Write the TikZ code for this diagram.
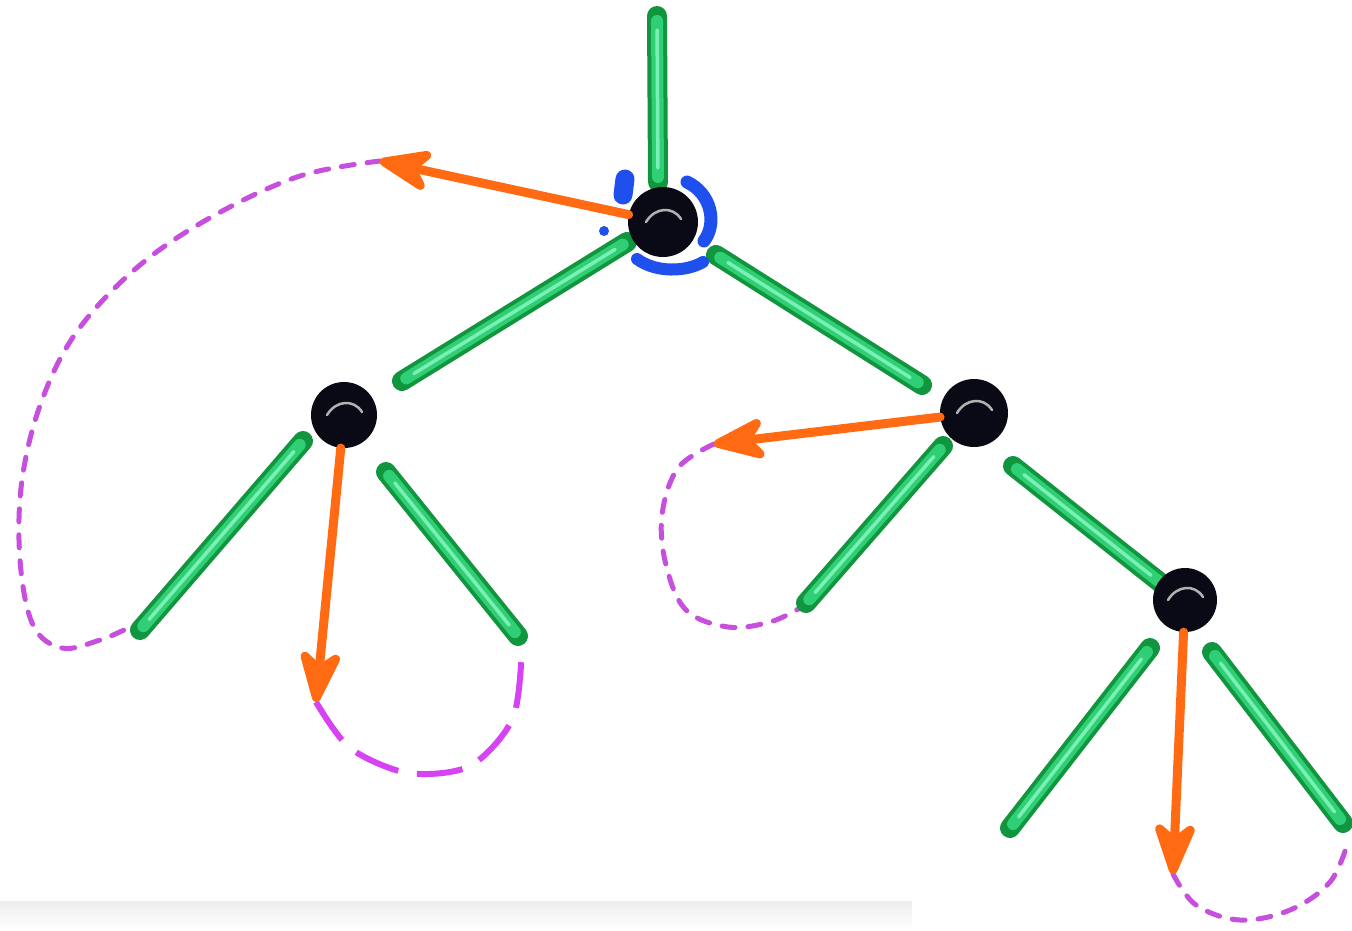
\documentclass[tikz,border=0pt]{standalone}
\usetikzlibrary{arrows.meta,calc}
\definecolor{gdark}{HTML}{11963F}
\definecolor{gmid}{HTML}{30CF76}
\definecolor{glight}{HTML}{7AF0B4}
\definecolor{orng}{HTML}{FF6A12}
\definecolor{mag}{HTML}{C64FDE}
\definecolor{mag2}{HTML}{D642F4}
\definecolor{blu}{HTML}{1F50EE}
\definecolor{nodeblk}{HTML}{0A0A16}
\tikzset{
  stickout/.style={gdark,line width=20pt,line cap=round},
  stickin/.style={gmid,line width=12pt,line cap=round,shorten <=5pt,shorten >=5pt},
  stickhi/.style={glight,line width=3.5pt,line cap=round,shorten <=14pt,shorten >=14pt},
  ball/.style={circle,fill=nodeblk,inner sep=0pt},
  hl/.style={gray!60,line width=2.5pt,line cap=round},
  oarrow/.style={orng,line width=9pt,line cap=round,-{Stealth[length=66pt,width=50pt,inset=20pt,round]}},
  dashthin/.style={mag,line width=5pt,line cap=round,dash pattern=on 13pt off 13pt},
  dashbig/.style={mag2,line width=6pt,dash pattern=on 46pt off 19pt},
  bluemark/.style={blu,line cap=round},
}
\newcommand\mystick[2]{%
  \draw[stickout] (#1) -- (#2);
  \draw[stickin] (#1) -- (#2);
  \draw[stickhi] (#1) -- (#2);}
\begin{document}
\begin{tikzpicture}[x=1pt,y=-1pt]
\useasboundingbox (0,0) rectangle (1352,930);
% bottom shadow band
\shade[top color=gray!14,bottom color=gray!2] (0,901) rectangle (912,926);

% centres
\coordinate (rc) at (663,222);
\coordinate (ac) at (344,415);
\coordinate (bc) at (974,413);
\coordinate (cc) at (1185,600);

% stick end points
\coordinate (r0a) at (657,16);   \coordinate (r0b) at (658,182);
\coordinate (r1a) at (627,242);  \coordinate (r1b) at (402,381);
\coordinate (r2a) at (716,255);  \coordinate (r2b) at (922,385);
\coordinate (a1a) at (303,441);  \coordinate (a1b) at (140,630);
\coordinate (a2a) at (386,472);  \coordinate (a2b) at (518,636);
\coordinate (b1a) at (943,446);  \coordinate (b1b) at (806,603);
\coordinate (b2a) at (1013,466); \coordinate (b2b) at (1162,584);
\coordinate (c1a) at (1150,648); \coordinate (c1b) at (1010,828);
\coordinate (c2a) at (1212,652); \coordinate (c2b) at (1343,823);

% dashed loops
\coordinate (tr) at (380,161);
\coordinate (ta) at (316,702);
\coordinate (tb) at (714,444);
\coordinate (tc) at (1173,874);
\draw[dashthin] plot[smooth,tension=0.6] coordinates {(tr) (300,176) (215,215) (140,265) (78,330) (42,400) (22,480) (20,560) (33,625) (62,648) (100,640) (128,628)};
\draw[dashbig] plot[smooth,tension=0.5] coordinates {(ta) (350,748) (408,773) (470,766) (513,718) (522,646)};
\draw[dashthin] plot[smooth,tension=0.6] coordinates {(tb) (678,468) (662,515) (666,565) (686,610) (728,627) (770,622) (800,608)};
\draw[dashthin] plot[smooth,tension=0.6] coordinates {(tc) (1196,905) (1240,920) (1290,910) (1330,882) (1348,842)};

% sticks
\mystick{r0a}{r0b}
\mystick{r1a}{r1b}
\mystick{r2a}{r2b}
\mystick{a1a}{a1b}
\mystick{a2a}{a2b}
\mystick{b1a}{b1b}
\mystick{b2a}{b2b}
\mystick{c1a}{c1b}
\mystick{c2a}{c2b}

% blue marks around root
\draw[bluemark,line width=19pt] (625,179) -- (623,195);
\draw[bluemark,line width=13pt] (687,182) .. controls (712,194) and (717,224) .. (704,241);
\draw[bluemark,line width=12pt] (637,259) .. controls (656,273) and (686,272) .. (703,262);
\fill[blu] (604,231) circle (5);

% balls
\node[ball,minimum size=70pt] (root) at (rc) {};
\node[ball,minimum size=66pt] (a) at (ac) {};
\node[ball,minimum size=68pt] (b) at (bc) {};
\node[ball,minimum size=64pt] (c) at (cc) {};
\foreach \n in {root,a,b,c}{
  \draw[hl] ($(\n)+(-17,0)$) .. controls ($(\n)+(-8,-15)$) and ($(\n)+(10,-16)$) .. ($(\n)+(18,-3)$);
}

% orange arrows
\draw[oarrow] (root) -- (tr);
\draw[oarrow] (a) -- (ta);
\draw[oarrow] (b) -- (tb);
\draw[oarrow] (c) -- (tc);
\end{tikzpicture}
\end{document}
